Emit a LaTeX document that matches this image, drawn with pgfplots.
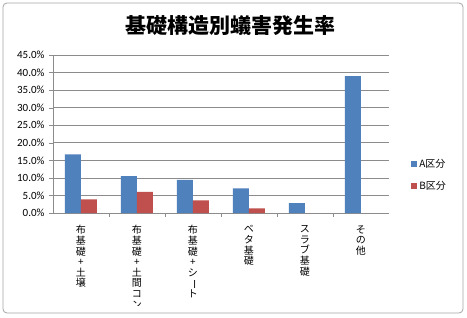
\documentclass[border=0pt]{standalone}
\usepackage{fontspec}
\usepackage{graphicx}
\usepackage{pgfplots}
\pgfplotsset{compat=1.18}
\setmainfont{Carlito}
\newfontfamily\cjk{Noto Sans CJK JP}
\definecolor{barA}{HTML}{4F81BD}
\definecolor{barB}{HTML}{C0504D}
\definecolor{gridc}{HTML}{8C8C8C}
\definecolor{framec}{HTML}{A6A6A6}
\newcommand{\vbar}{\rotatebox[origin=c]{-90}{ー}}
\begin{document}
\begin{tikzpicture}
\useasboundingbox (-53pt,-104pt) rectangle (414pt,213pt);
\fill[white] (-53pt,-104pt) rectangle (414pt,213pt);
\begin{scope}
\clip (-53pt,-92pt) rectangle (414pt,213pt);
\begin{axis}[
  at={(0pt,0pt)}, anchor=south west,
  scale only axis, width=336pt, height=158pt,
  ymin=0, ymax=45, ytick={0,5,...,45},
  xmin=-0.5, xmax=5.5,
  xtick={0,...,5},
  xticklabels={
    {布\\基\\礎\\+\\土\\壌},
    {布\\基\\礎\\+\\土\\間\\コ\\ン},
    {布\\基\\礎\\+\\シ\\\vbar\\ト},
    {ベ\\タ\\基\\礎},
    {ス\\ラ\\ブ\\基\\礎},
    {そ\\の\\他}},
  minor xtick={0.5,1.5,...,4.5},
  major x tick style={draw=none},
  minor tick length=4pt, major tick length=4pt,
  tick align=outside, tick pos=left,
  tick style={gridc},
  axis x line*=bottom, axis y line*=left,
  axis line style={gridc,-},
  ymajorgrids, grid style={gridc, line width=0.6pt},
  yticklabel={\pgfmathprintnumber[fixed,fixed zerofill,precision=1,assume math mode=true]{\tick}\%},
  yticklabel style={font=\fontsize{11}{12}\selectfont, xshift=-1pt},
  xticklabel style={align=center, font=\cjk\fontsize{10}{10.6}\selectfont, anchor=north, yshift=-5pt},
  ybar=0pt, bar width=16pt,
  legend style={draw=none, fill=none, at={(1.057,0.24)}, anchor=west,
    font=\cjk\fontsize{10}{12}\selectfont, row sep=8pt},
  legend cell align=left,
  legend image code/.code={\fill[#1] (0pt,-3pt) rectangle (6pt,3pt);},
]
\addplot[fill=barA, draw=none] coordinates {(0,16.7) (1,10.5) (2,9.4) (3,7.0) (4,2.8) (5,39.0)};
\addlegendentry{A区分}
\addplot[fill=barB, draw=none] coordinates {(0,3.9) (1,6.0) (2,3.6) (3,1.3)};
\addlegendentry{B区分}
\end{axis}
\end{scope}
\node[font=\cjk\bfseries\fontsize{21}{24}\selectfont] at (178pt,187pt) {基礎構造別蟻害発生率};
\draw[framec, line width=0.8pt, rounded corners=4pt] (-50pt,-100pt) rectangle (410pt,210pt);
\end{tikzpicture}
\end{document}
